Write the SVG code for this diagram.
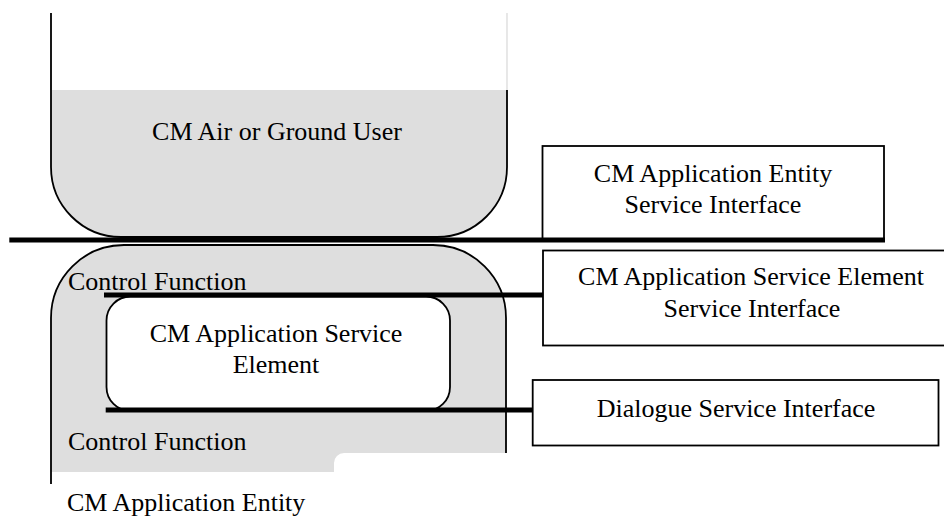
<svg xmlns="http://www.w3.org/2000/svg" width="944" height="518" viewBox="0 0 944 518">
<style>
text{font-family:"Liberation Serif","Times New Roman",serif;font-size:26px;fill:#000}
.mid{text-anchor:middle}
.box{fill:#fff;stroke:#000;stroke-width:1.8}
.out{fill:none;stroke:#000;stroke-width:1.8}
.gray{fill:#dedede;stroke:none}
.bar{stroke:#000;stroke-width:5;fill:none}
</style>
<rect width="944" height="518" fill="#fff"/>
<g id="user">
<path class="gray" d="M51,90 H507 V167 A70,70 0 0 1 437,237 H121 A70,70 0 0 1 51,167 Z"/>
<line x1="507" y1="13" x2="507" y2="90" stroke="#d8d8d8" stroke-width="1.2"/>
<path class="out" d="M51,13 V167 A70,70 0 0 0 121,237 H437 A70,70 0 0 0 507,167 V90"/>
<text class="mid" x="277" y="140">CM Air or Ground User</text>
</g>
<g id="entity">
<path class="gray" d="M51,318 A73,73 0 0 1 124,245 H433 A73,73 0 0 1 506,318 V453 H344 A10,10 0 0 0 334,463 V472 H51 Z"/>
<path class="out" d="M51,484 V318 A73,73 0 0 1 124,245 H433 A73,73 0 0 1 506,318 V453"/>
<text x="68" y="290">Control Function</text>
<text x="68" y="450">Control Function</text>
<text x="67" y="511">CM Application Entity</text>
</g>
<g id="ase">
<rect class="box" x="106.5" y="296.5" width="343.5" height="114.5" rx="24" ry="24"/>
<text class="mid" x="276" y="342">CM Application Service</text>
<text class="mid" x="276" y="373">Element</text>
</g>
<g id="aesi">
<rect class="box" x="542.5" y="146" width="341.5" height="94"/>
<text class="mid" x="713" y="182">CM Application Entity</text>
<text class="mid" x="713" y="213">Service Interface</text>
</g>
<g id="asesi">
<rect class="box" x="543" y="250.5" width="420" height="95"/>
<text class="mid" x="751" y="285">CM Application Service Element</text>
<text class="mid" x="752" y="317">Service Interface</text>
</g>
<g id="dsi">
<rect class="box" x="532.7" y="380" width="405.8" height="65.5"/>
<text class="mid" x="736" y="417">Dialogue Service Interface</text>
</g>
<g id="connectors">
<line class="bar" x1="9.3" y1="240" x2="885" y2="240" stroke-width="5.5"/>
<line class="bar" x1="104" y1="295" x2="543" y2="295"/>
<line class="bar" x1="105.7" y1="410" x2="533" y2="410"/>
</g>
</svg>
